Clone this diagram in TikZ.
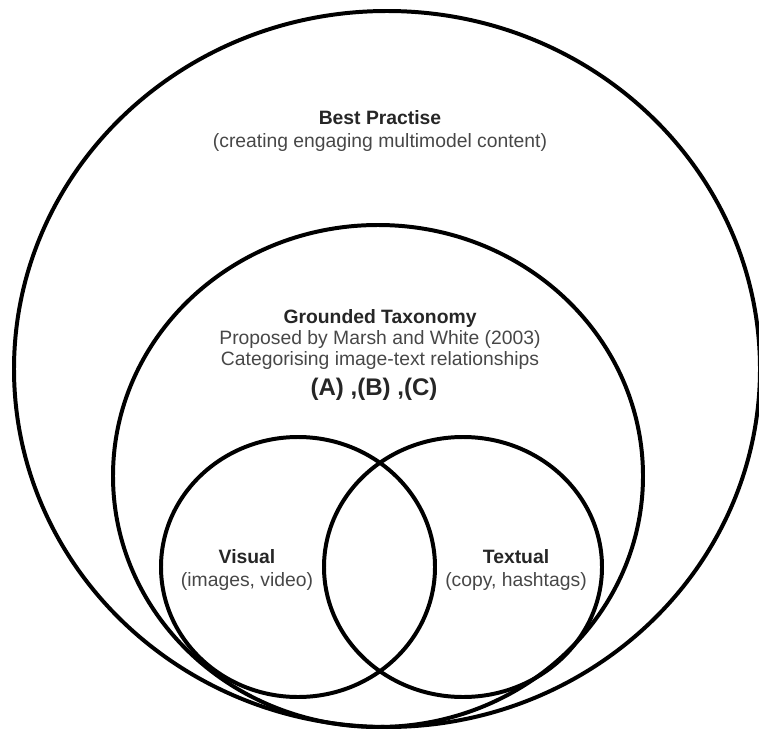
\documentclass[tikz,border=0pt]{standalone}
\usepackage{fontspec}
\setmainfont{Liberation Sans}
\usetikzlibrary{positioning}
\tikzset{
  ring/.style={
    draw=black,
    line width=3.4pt
  },
  head/.style={
    font=\fontsize{16.5}{19}\selectfont\bfseries,
    text=black!85,
    inner sep=0pt,
    anchor=base
  },
  note/.style={
    font=\fontsize{16.5}{19}\selectfont,
    text=black!72,
    inner sep=0pt,
    anchor=base
  }
}

\begin{document}
\begin{tikzpicture}[x=0.03cm, y=-0.03cm]
    \useasboundingbox (0,0) rectangle (759,732);

    % nested sets
    \draw[ring] (387,369) ellipse [x radius=373, y radius=358];
    \draw[ring] (378,476) ellipse [x radius=265, y radius=251];
    \draw[ring] (298,567) ellipse [x radius=137, y radius=130];
    \draw[ring] (463,567) ellipse [x radius=139, y radius=130];

    % labels
    \node[head] (best) at (380,125) {Best Practise};
    \node[note] (bestsub) at (380,148) {(creating engaging multimodel content)};

    \node[head] (tax) at (380,323) {Grounded Taxonomy};
    \node[note] (taxby) at (380,344) {Proposed by Marsh and White (2003)};
    \node[note] (taxcat) at (380,365) {Categorising image-text relationships};
    \node[head, font=\fontsize{20.5}{23}\selectfont\bfseries] (abc) at (374,395) {(A) ,(B) ,(C)};

    \node[head] (vis) at (247,563) {Visual};
    \node[note] (vissub) at (247,586) {(images, video)};

    \node[head] (txt) at (516,563) {Textual};
    \node[note] (txtsub) at (516,586) {(copy, hashtags)};
\end{tikzpicture}
\end{document}
